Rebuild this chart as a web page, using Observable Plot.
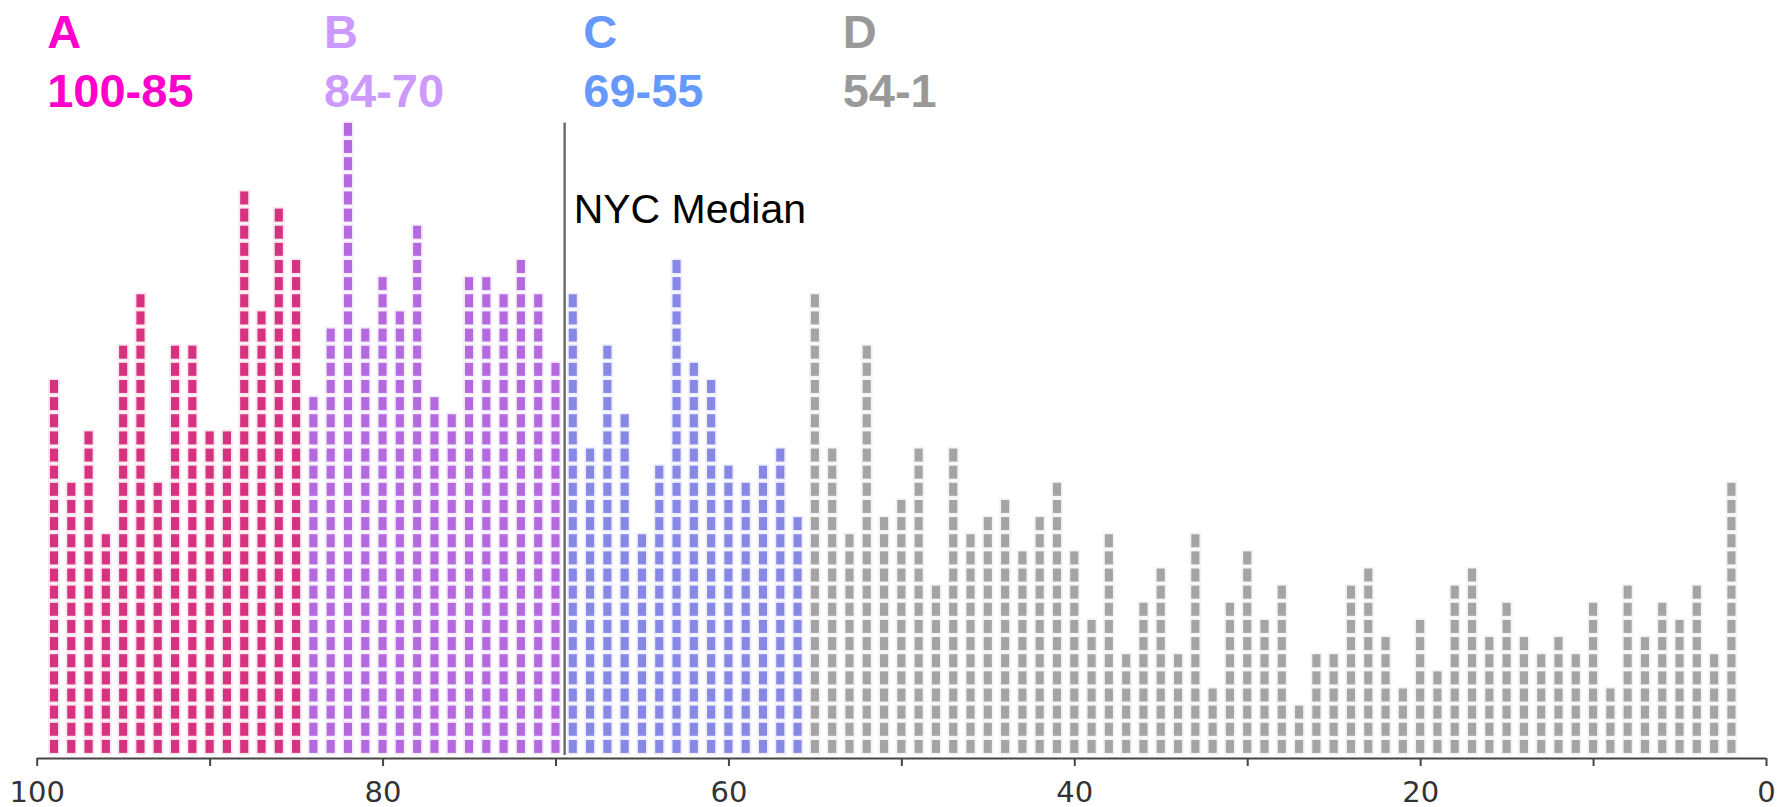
<!DOCTYPE html>
<html>
<head>
<meta charset="utf-8">
<script src="https://cdn.jsdelivr.net/npm/d3@7"></script>
<script src="https://cdn.jsdelivr.net/npm/@observablehq/plot@0.6"></script>
<style>
  html, body { margin: 0; padding: 0; background: #fff; }
</style>
</head>
<body>
<div id="chart"></div>
<script>
// Score columns (left = high score) and the number of schools at each score
const scores = [99, 98, 97, 96, 95, 94, 93, 92, 91, 90,
  89, 88, 87, 86, 85, 84, 83, 82, 81, 80,
  79, 78, 77, 76, 75, 74, 73, 72, 71, 70,
  69, 68, 67, 66, 65, 64, 63, 62, 61, 60,
  59, 58, 57, 56, 55, 54, 53, 52, 51, 50,
  49, 48, 47, 46, 45, 44, 43, 42, 41, 40,
  39, 38, 37, 36, 35, 34, 33, 32, 31, 30,
  29, 28, 27, 26, 25, 24, 23, 22, 21, 20,
  19, 18, 17, 16, 15, 14, 13, 12, 11, 10,
  9, 8, 7, 6, 5, 4, 3, 2];
const counts = [22, 16, 19, 13, 24, 27, 16, 24, 24, 19,
  19, 33, 26, 32, 29, 21, 25, 37, 25, 28,
  26, 31, 21, 20, 28, 28, 27, 29, 27, 23,
  27, 18, 24, 20, 13, 17, 29, 23, 22, 17,
  16, 17, 18, 14, 27, 18, 13, 24, 14, 15,
  18, 10, 18, 13, 14, 15, 12, 14, 16, 12,
  8, 13, 6, 9, 11, 6, 13, 4, 9, 12,
  8, 10, 3, 6, 6, 10, 11, 7, 4, 8,
  5, 10, 11, 7, 9, 7, 6, 7, 6, 9,
  4, 10, 7, 9, 8, 10, 6, 16];

const gradeLetters = ["A", "B", "C", "D"];
const gradeRanges = ["100-85", "84-70", "69-55", "54-1"];
const gradeTop = [100, 84, 69, 54];
const colorBreaks = [85, 70, 56];
const labelColors = ["#ff00cc", "#cc99ff", "#6699ff", "#999999"];
const barColors = ["#d6327f", "#b46ade", "#8787e6", "#a4a4a4"];

const medianScore = 69.5;
const medianLabel = "NYC Median";
const xTicks = [100, 90, 80, 70, 60, 50, 40, 30, 20, 10, 0];

const gradeOf = s => s >= colorBreaks[0] ? "A" : s >= colorBreaks[1] ? "B" : s >= colorBreaks[2] ? "C" : "D";
const units = [];
scores.forEach((s, i) => {
  for (let k = 0; k < counts[i]; k++) units.push({score: s, k, grade: gradeOf(s)});
});
const headers = gradeLetters.map((g, i) => ({letter: g, range: gradeRanges[i], top: gradeTop[i], color: labelColors[i]}));

const headFont = "'Liberation Sans', Arial, Helvetica, sans-serif";

const chart = Plot.plot({
  width: 1779,
  height: 807,
  marginLeft: 37,
  marginRight: 13,
  marginTop: 121,
  marginBottom: 49,
  x: {domain: [100, 0], range: [36.7, 1766], label: null},
  y: {domain: [0, 37], range: [755, 120.8], axis: null, label: null},
  color: {domain: gradeLetters, range: barColors},
  style: {background: "#fff", fontFamily: "'DejaVu Sans', sans-serif", overflow: "visible"},
  marks: [
    // soft halo around each block, like the blurred original
    Plot.rect(units, {
      x1: d => d.score - 0.5, x2: d => d.score + 0.5,
      y1: "k", y2: d => d.k + 1,
      fill: "grade", fillOpacity: 0.13,
      insetLeft: 2.8, insetRight: 2.8, insetTop: 0.4, insetBottom: 0.4
    }),
    Plot.rect(units, {
      x1: d => d.score - 0.5, x2: d => d.score + 0.5,
      y1: "k", y2: d => d.k + 1,
      fill: "grade",
      insetLeft: 4.6, insetRight: 4.6, insetTop: 2.1, insetBottom: 2.1
    }),
    Plot.ruleX([medianScore], {y1: 0, y2: 36.9, stroke: "#6e6e6e", strokeWidth: 2.5}),
    Plot.text([medianLabel], {
      x: () => medianScore, y: () => 36.9, text: d => d,
      textAnchor: "start", lineAnchor: "top", dx: 9, dy: 71,
      fontSize: 41, fontFamily: headFont, fill: "#000"
    }),
    Plot.ruleY([0], {dy: 3, stroke: "#444", strokeWidth: 2}),
    Plot.axisX({
      ticks: xTicks, tickSize: 8, tickPadding: 15, label: null,
      tickFormat: d => d % 20 === 0 ? String(d) : "",
      fontSize: 29, stroke: "#444", fill: "#333", strokeWidth: 2
    }),
    Plot.text(headers, {
      x: "top", frameAnchor: "top", text: "letter", fill: "color",
      textAnchor: "start", lineAnchor: "bottom", dx: 10, dy: -74,
      fontSize: 47, fontWeight: "bold", fontFamily: headFont
    }),
    Plot.text(headers, {
      x: "top", frameAnchor: "top", text: "range", fill: "color",
      textAnchor: "start", lineAnchor: "bottom", dx: 10, dy: -15,
      fontSize: 47, fontWeight: "bold", fontFamily: headFont
    })
  ]
});
document.getElementById("chart").appendChild(chart);
</script>
</body>
</html>
